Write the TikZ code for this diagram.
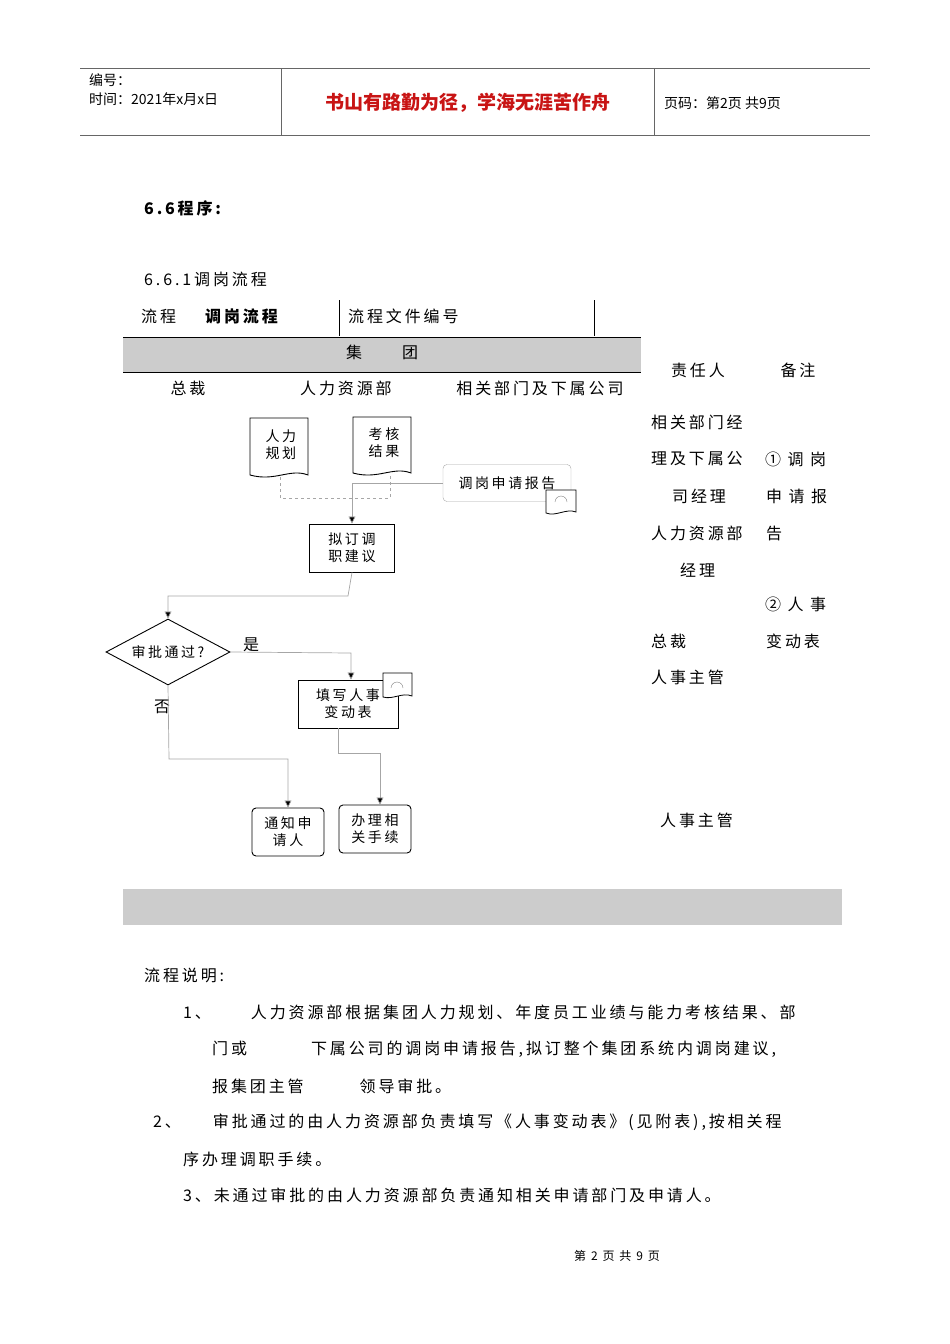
\documentclass[tikz,border=0pt]{standalone}
\usepackage{fontspec}
\setmainfont{Noto Sans CJK SC}[LetterSpace=18]
\newfontfamily\hdfont{Noto Sans CJK SC}
\usetikzlibrary{shapes.geometric,arrows.meta}
\begin{document}
\begin{tikzpicture}[x=1pt,y=-1pt,
 t/.style={inner sep=0pt,font=\fontsize{16}{18}\selectfont},
 st/.style={inner sep=0pt,font=\fontsize{14}{17}\selectfont,align=center},
 flow/.style={draw=black!35,line width=0.7pt},
 arr/.style={flow,-{Triangle[length=7pt,width=7pt,fill=black]}},
 boxs/.style={draw,line width=0.9pt,minimum width=85pt,minimum height=48pt,st},
 rbox/.style={draw,rounded corners=4pt,line width=0.9pt,minimum width=72pt,minimum height=48pt,st}]
\useasboundingbox (0,0) rectangle (950,1344);
% header
\draw[black!60] (80,68) -- (870,68) (80,135) -- (870,135) (281,68) -- (281,135) (654,68) -- (654,135);
\node[t,anchor=west,font=\hdfont\fontsize{14}{16}\selectfont] (h1) at (89,80) {编号：};
\node[t,anchor=west,font=\hdfont\fontsize{14}{16}\selectfont] (h2) at (89,99) {时间：2021年x月x日};
\node[t,font=\hdfont\fontsize{19}{21}\bfseries\selectfont,text={rgb,255:red,200;green,20;blue,20}] (h3) at (468,103) {书山有路勤为径，学海无涯苦作舟};
\node[t,anchor=west,font=\hdfont\fontsize{14}{16}\selectfont] (h4) at (664,103) {页码：第2页 共9页};
\node[t,anchor=west,font=\fontsize{16}{18}\bfseries\selectfont] (s66) at (144,208) {6.\,6程序:};
\node[t,anchor=west] (s661) at (144,279) {6.6.1调岗流程};
% table
\node[t,anchor=west] (lc) at (141,316) {流程};
\node[t,anchor=west,font=\fontsize{16}{18}\bfseries\selectfont] (tg) at (205,316) {调岗流程};
\draw (339,300) -- (339,336) (594,300) -- (594,336);
\node[t,anchor=west] (bh) at (348,316) {流程文件编号};
\fill[black!20] (123,337) rectangle (641,372);
\draw (123,337) -- (641,337) (123,372) -- (641,372);
\node[t] (jt) at (382,352) {集\hspace{2.5em}团};
\node[t] (c1) at (188,388) {总裁};
\node[t] (c2) at (346,388) {人力资源部};
\node[t] (c3) at (540,388) {相关部门及下属公司};
\node[t] (c4) at (698,370) {责任人};
\node[t] (c5) at (798,370) {备注};
% documents
\draw[line width=0.9pt] (250,418) -- (308,418) -- (308,475) .. controls (290,468) and (275,482) .. (250,475) -- cycle;
\node[st] (d1) at (281,445) {人力\\规划};
\draw[line width=0.9pt] (353,417) -- (411,417) -- (411,473) .. controls (393,466) and (378,480) .. (353,473) -- cycle;
\node[st] (d2) at (384,443) {考核\\结果};
\node[draw=black!35,rounded corners=4pt,minimum width=128pt,minimum height=37pt,st] (d3) at (507,483) {调岗申请报告};
\draw[line width=0.8pt,fill=white] (546,490) -- (576,490) -- (576,512) .. controls (566,508) and (556,517) .. (546,513) -- cycle;
\draw[black!50] (555,502) arc (180:0:6pt);
\node[boxs] (p1) at (352,548) {拟订调\\职建议};
\draw[dashed,black!35] (280,477) -- (280,498) -- (390,498) -- (390,475);
\draw[arr] (d3.west) -- (p1.north |- d3.west) -- (p1.north);
\node[diamond,draw,line width=0.9pt,minimum width=124pt,minimum height=66pt,inner sep=0pt,aspect=1.9,st] (dm) at (168,652) {审批通过?};
\draw[arr] (p1.south) -- (348,596) -- (168,596) -- (dm.north);
\node[boxs,minimum width=100pt] (p2) at (348,704) {填写人事\\变动表};
\draw[line width=0.8pt,fill=white] (383,673) -- (412,673) -- (412,696) .. controls (402,692) and (393,700) .. (383,697) -- cycle;
\draw[black!50] (391,688) arc (180:0:6pt);
\coordinate (yc) at (351,653);
\draw[arr] (dm.east) -- (yc) -- (yc |- p2.north);
\node[t] (yes) at (251,645) {是};
\node[t] (no) at (162,707) {否};
\node[rbox] (p3) at (288,832) {通知申\\请人};
\node[rbox] (p4) at (375,829) {办理相\\关手续};
\coordinate (pc) at (380,753);
\draw[arr] (dm.south) -- (169,759) -- (288,759) -- (p3.north);
\draw[arr] (338,728) -- (338,753) -- (pc) -- (pc |- p4.north);
% right text
\node[t,anchor=west] (r1) at (651,422) {相关部门经};
\node[t,anchor=west] (r2) at (651,459) {理及下属公};
\node[t,anchor=west] (r3) at (672,496) {司经理};
\node[t,anchor=west] (r4) at (651,533) {人力资源部};
\node[t,anchor=west] (r5) at (680,570) {经理};
\node[t,anchor=west] (r6) at (651,641) {总裁};
\node[t,anchor=west] (r7) at (651,677) {人事主管};
\node[t,anchor=west] (r8) at (660,820) {人事主管};
\node[t,anchor=west] (n1) at (765,459) {① 调 岗};
\node[t,anchor=west] (n2) at (766,496) {申 请 报};
\node[t,anchor=west] (n3) at (766,533) {告};
\node[t,anchor=west] (n4) at (765,604) {② 人 事};
\node[t,anchor=west] (n5) at (766,641) {变动表};
\fill[black!20] (123,889) rectangle (842,925);
% description
\node[t,anchor=west] (e0) at (144,975) {流程说明:};
\node[t,anchor=west] (e1) at (183,1012) {1、\hspace{2.5em}人力资源部根据集团人力规划、年度员工业绩与能力考核结果、部};
\node[t,anchor=west] (e2) at (212,1049) {门或\hspace{4em}下属公司的调岗申请报告,拟订整个集团系统内调岗建议,};
\node[t,anchor=west] (e3) at (212,1086) {报集团主管\hspace{3.5em}领导审批。};
\node[t,anchor=west] (e4) at (153,1122) {2、\hspace{2em}审批通过的由人力资源部负责填写《人事变动表》(见附表),按相关程};
\node[t,anchor=west] (e5) at (183,1159) {序办理调职手续。};
\node[t,anchor=west] (e6) at (183,1195) {3、未通过审批的由人力资源部负责通知相关申请部门及申请人。};
\node[t,font=\fontsize{12}{14}\selectfont] (ft) at (617,1256) {第 2 页 共 9 页};
\end{tikzpicture}
\end{document}
